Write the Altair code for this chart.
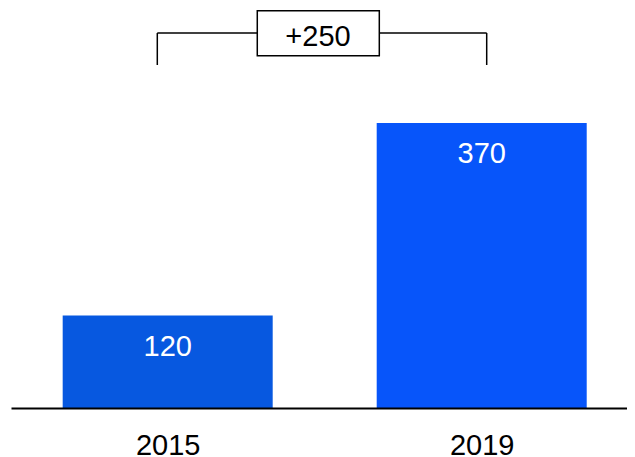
import altair as alt
import pandas as pd

# ---- data ----
years = ["2015", "2019"]
values = [120, 370]
bar_colors = ["#0758E0", "#0755FA"]
diff_label = "+%d" % (values[1] - values[0])

FONT = "Liberation Sans"
FS = 29
HALF = 0.3344  # half bar width in index units

bars_df = pd.DataFrame({
    "idx": list(range(len(years))),
    "year": years,
    "value": values,
    "color": bar_colors,
})
bars_df["lo"] = bars_df["idx"] - HALF
bars_df["hi"] = bars_df["idx"] + HALF

# bracket annotation (in index / value units)
br_left, br_right = -0.0331, 1.0159
br_low, br_high = 445.5, 487
bracket_df = pd.DataFrame({
    "x": [br_left, br_left, br_right],
    "x2": [br_left, br_right, br_right],
    "y": [br_low, br_high, br_low],
    "y2": [br_high, br_high, br_high],
})
box_df = pd.DataFrame({"x": [0.2853], "x2": [0.6739], "y": [457.5], "y2": [516],
                       "tx": [0.4787], "ty": [481.6], "label": [diff_label]})

label_expr = " : ".join(
    ["datum.value == %d ? '%s'" % (i, y) for i, y in enumerate(years[:-1])] + ["'%s'" % years[-1]]
)

xscale = alt.Scale(domain=[-0.499, 1.4627], nice=False, zero=False)
yscale = alt.Scale(domain=[0, 519.5], nice=False, zero=True)

xaxis = alt.Axis(values=list(range(len(years))), labelExpr=label_expr, ticks=False, grid=False,
                 domainColor="black", domainWidth=2, labelFontSize=FS, labelFont=FONT,
                 labelColor="black", labelPadding=23, labelBaseline="top", title=None, zindex=1)

base = alt.Chart(bars_df)

bars = base.mark_rect().encode(
    x=alt.X("lo:Q", scale=xscale, axis=xaxis),
    x2="hi:Q",
    y=alt.Y("value:Q", scale=yscale, axis=None),
    y2=alt.datum(0),
    color=alt.Color("color:N", scale=None),
)

bar_text = base.mark_text(color="white", fontSize=FS, font=FONT, baseline="middle", dy=31).encode(
    x=alt.X("idx:Q", scale=xscale),
    y=alt.Y("value:Q", scale=yscale),
    text="value:Q",
)

bracket = alt.Chart(bracket_df).mark_rule(color="black", strokeWidth=1.5).encode(
    x=alt.X("x:Q", scale=xscale), x2="x2:Q",
    y=alt.Y("y:Q", scale=yscale), y2="y2:Q",
)

box = alt.Chart(box_df).mark_rect(fill="white", stroke="black", strokeWidth=1.5).encode(
    x=alt.X("x:Q", scale=xscale), x2="x2:Q",
    y=alt.Y("y:Q", scale=yscale), y2="y2:Q",
)

box_text = alt.Chart(box_df).mark_text(color="black", fontSize=FS, font=FONT, baseline="middle").encode(
    x=alt.X("tx:Q", scale=xscale),
    y=alt.Y("ty:Q", scale=yscale),
    text="label:N",
)

chart = alt.layer(bars, bar_text, bracket, box, box_text).properties(
    width=616, height=400,
    autosize=alt.AutoSizeParams(type="none"),
    padding={"left": 3, "top": 0, "right": 0, "bottom": 49},
).configure_view(stroke=None)

chart.save("out.html", embed_options={"renderer": "svg", "actions": False})
